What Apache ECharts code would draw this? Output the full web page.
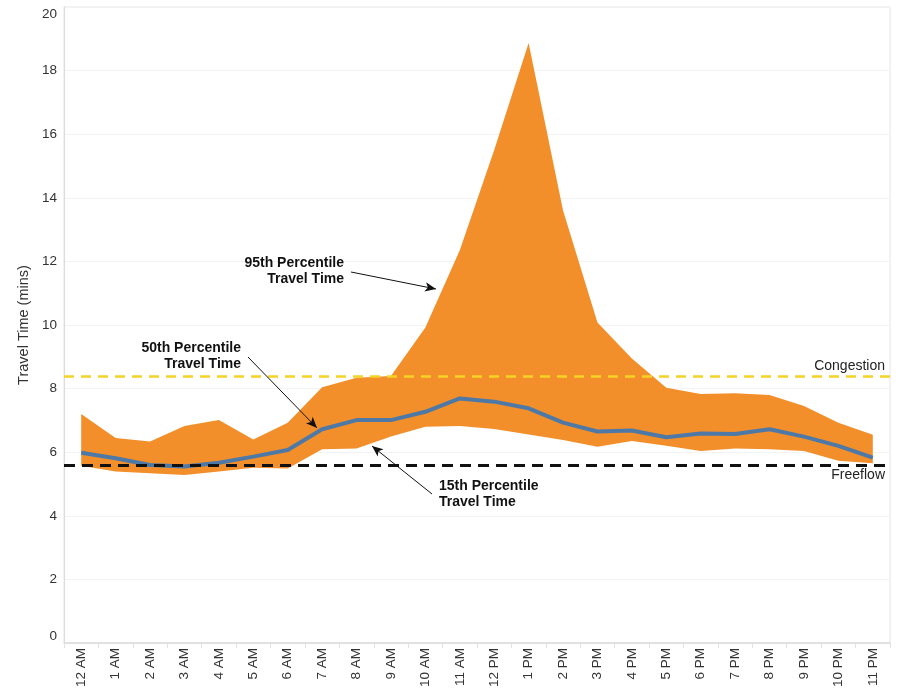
<!DOCTYPE html>
<html>
<head>
<meta charset="utf-8">
<script src="https://cdn.jsdelivr.net/npm/echarts@6/dist/echarts.min.js"></script>
<style>
  html, body { margin: 0; padding: 0; background: #fff; }
  #chart { width: 897px; height: 688px; }
</style>
</head>
<body>
<div id="chart"></div>
<script>
const hours = [
  "12 AM", "1 AM", "2 AM", "3 AM", "4 AM", "5 AM", "6 AM", "7 AM", "8 AM", "9 AM", "10 AM", "11 AM",
  "12 PM", "1 PM", "2 PM", "3 PM", "4 PM", "5 PM", "6 PM", "7 PM", "8 PM", "9 PM", "10 PM", "11 PM"
];

// travel time percentiles (mins)
const p95 = [7.2, 6.45, 6.34, 6.82, 7.01, 6.4, 6.93, 8.04, 8.34, 8.4, 9.92, 12.35,
             15.5, 18.87, 13.6, 10.08, 8.95, 8.03, 7.83, 7.85, 7.8, 7.45, 6.93, 6.55];
const p50 = [5.98, 5.81, 5.6, 5.55, 5.67, 5.86, 6.07, 6.72, 7.01, 7.01, 7.27, 7.69,
             7.59, 7.38, 6.93, 6.65, 6.68, 6.47, 6.59, 6.57, 6.72, 6.49, 6.2, 5.83];
const p15 = [5.57, 5.39, 5.34, 5.28, 5.39, 5.51, 5.49, 6.09, 6.12, 6.49, 6.8, 6.82,
             6.73, 6.56, 6.38, 6.17, 6.35, 6.2, 6.04, 6.12, 6.09, 6.04, 5.73, 5.65];

const congestion = 8.4;
const freeflow = 5.6;

const FONT = 'Arial, "Liberation Sans", sans-serif';

// height of the orange band stacked on top of the 15th percentile
const bandHeight = p95.map((v, i) => +(v - p15[i]).toFixed(2));

// annotation arrows (pixel positions)
function arrow(x1, y1, x2, y2) {
  return [
    { x: x1, y: y1, symbol: "none" },
    { x: x2, y: y2, symbol: "arrow", symbolSize: [7, 11] }
  ];
}

// two-line bold note, one text element per line
function note(lines, x, y, align) {
  return lines.map((t, i) => ({
    type: "text",
    x: x,
    y: y + i * 16,
    z: 10,
    style: {
      text: t,
      align: align,
      verticalAlign: "middle",
      font: "bold 14px " + FONT,
      fill: "#111"
    }
  }));
}

const chart = echarts.init(document.getElementById("chart"));

chart.setOption({
  animation: false,
  textStyle: { fontFamily: FONT },
  grid: {
    left: 64, right: 7, top: 7, bottom: 45,
    outerBoundsMode: "none",
    show: true, borderColor: "#e4e4e4", borderWidth: 1
  },
  xAxis: {
    type: "category",
    data: hours,
    boundaryGap: true,
    axisLine: { lineStyle: { color: "#dcdcdc", width: 1.5 } },
    axisTick: { show: true, length: 5, lineStyle: { color: "#e2e2e2" } },
    axisLabel: {
      rotate: 90, margin: 5, fontSize: 13.5, color: "#333", interval: 0,
      fontFamily: FONT
    },
    splitLine: { show: false }
  },
  yAxis: {
    type: "value",
    min: 0, max: 20, interval: 2,
    name: "Travel Time (mins)",
    nameLocation: "middle",
    nameGap: 28,
    nameTextStyle: { fontSize: 14.5, color: "#333", fontFamily: FONT },
    axisLine: { show: true, lineStyle: { color: "#dcdcdc" } },
    axisTick: { show: false },
    axisLabel: {
      fontSize: 13.5, color: "#333", margin: 7, fontFamily: FONT,
      verticalAlignMaxLabel: "top", verticalAlignMinLabel: "bottom"
    },
    splitLine: { lineStyle: { color: "#f3f3f3" } }
  },
  series: [
    {
      name: "15th Percentile",
      type: "line",
      stack: "band",
      data: p15,
      symbol: "none",
      lineStyle: { opacity: 0 },
      silent: true,
      z: 2
    },
    {
      name: "95th Percentile",
      type: "line",
      stack: "band",
      data: bandHeight,
      symbol: "none",
      lineStyle: { opacity: 0 },
      areaStyle: { color: "#f28f2a", opacity: 1 },
      silent: true,
      z: 2
    },
    {
      name: "Reference",
      type: "line",
      data: [],
      z: 3,
      markLine: {
        silent: true,
        animation: false,
        symbol: "none",
        data: [
          {
            yAxis: congestion,
            lineStyle: { color: "#f5d324", width: 2.5, type: [10, 7] },
            label: {
              formatter: "Congestion", position: "insideEndTop",
              fontSize: 14, color: "#222", fontFamily: FONT, distance: [5, 3]
            }
          },
          {
            yAxis: freeflow,
            lineStyle: { color: "#111", width: 3, type: [11, 7] },
            label: {
              formatter: "Freeflow", position: "insideEndBottom",
              fontSize: 14, color: "#222", fontFamily: FONT, distance: [5, 3]
            }
          },
          arrow(351, 272, 436, 289),
          arrow(248, 357, 317, 428),
          arrow(432, 494, 372, 446)
        ].map(d => Array.isArray(d)
          ? d.map(p => Object.assign(p, { lineStyle: { color: "#111", width: 1, type: "solid" }, label: { show: false } }))
          : d)
      }
    },
    {
      name: "50th Percentile",
      type: "line",
      data: p50,
      symbol: "none",
      lineStyle: { color: "#4e79a7", width: 4 },
      silent: true,
      z: 4
    }
  ],
  graphic: [
    ...note(["95th Percentile", "Travel Time"], 344, 263, "right"),
    ...note(["50th Percentile", "Travel Time"], 241, 348, "right"),
    ...note(["15th Percentile", "Travel Time"], 439, 486, "left")
  ]
});
</script>
</body>
</html>
